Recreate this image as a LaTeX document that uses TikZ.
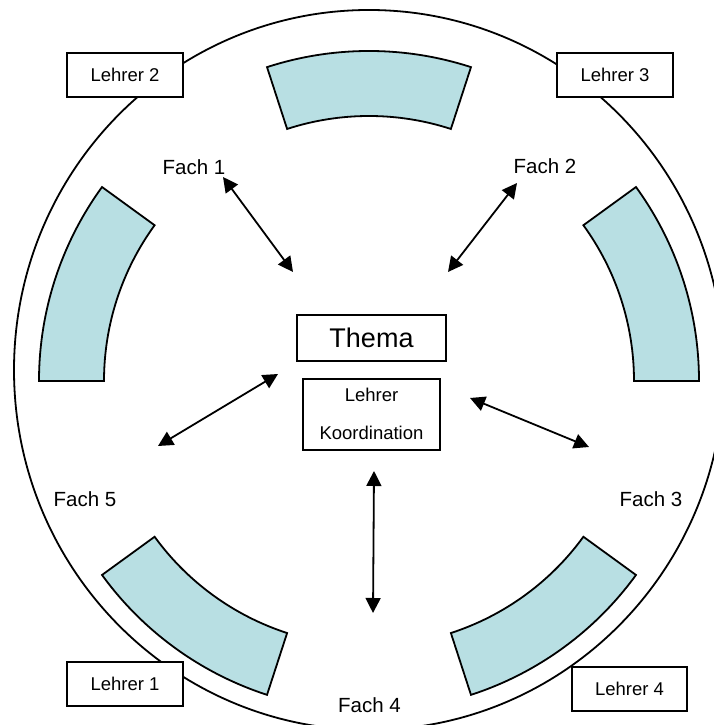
\documentclass[tikz,border=0pt]{standalone}
\usepackage{fontspec}
\setmainfont{Liberation Sans}
\usetikzlibrary{arrows.meta,positioning}
\definecolor{segblue}{RGB}{184,223,227}

\begin{document}
\begin{tikzpicture}[x=1pt,y=1pt,line width=1.8pt,
	lehrer/.style={draw,fill=white,minimum width=116pt,minimum height=44pt,inner sep=0pt,font=\fontsize{18.5}{38}\selectfont},
	fach/.style={inner sep=0pt,font=\fontsize{20.5}{24}\selectfont},
	seg/.style={draw,fill=segblue},
	link/.style={{Triangle[length=15pt,width=15pt]}-{Triangle[length=15pt,width=15pt]}}]
	\useasboundingbox (0,0) rectangle (714,725);
	\clip (0,0) rectangle (714,725);
	\coordinate (m) at (369,344);
	\draw (369,355) ellipse [x radius=355, y radius=360];
	\foreach \a in {0,72,144,216,288}
		\draw[seg] ([shift={(\a:330)}]m) arc[start angle=\a, delta angle=36, radius=330]
		-- ([shift={(\a+36:265)}]m) arc[start angle=\a+36, delta angle=-36, radius=265] -- cycle;
	% Lehrer
	\node[lehrer] (l_2) at (125,650) {Lehrer 2};
	\node[lehrer] (l_3) at (615,650) {Lehrer 3};
	\node[lehrer] (l_1) at (125,41) {Lehrer 1};
	\node[lehrer,minimum width=115pt] (l_4) at (629.5,36) {Lehrer 4};
	% Mitte
	\node[draw,minimum width=149pt,minimum height=46pt,inner sep=0pt,font=\fontsize{27}{32}\selectfont] (thema) at (371.5,387) {Thema};
	\node[lehrer,minimum width=137pt,minimum height=71pt,align=center,below=16pt of thema] (koord) {Lehrer\\Koordination};
	% Faecher
	\node[fach] (f_1) at (194,558) {Fach 1};
	\node[fach] (f_2) at (545,559) {Fach 2};
	\node[fach] (f_3) at (651,226) {Fach 3};
	\node[fach] (f_4) at (369.5,20) {Fach 4};
	\node[fach] (f_5) at (85,226) {Fach 5};
	% Pfeile
	\coordinate (p_1) at (223,548); \coordinate (q_1) at (293,453);
	\coordinate (p_2) at (517,542); \coordinate (q_2) at (448,453);
	\coordinate (p_3) at (589,278); \coordinate (q_3) at (470,327);
	\coordinate (p_4) at (373,112); \coordinate (q_4) at (374,254);
	\coordinate (p_5) at (158,279); \coordinate (q_5) at (278,351);
	\foreach \i in {1,...,5}
		\draw[link] (p_\i) -- (q_\i);
\end{tikzpicture}
\end{document}
